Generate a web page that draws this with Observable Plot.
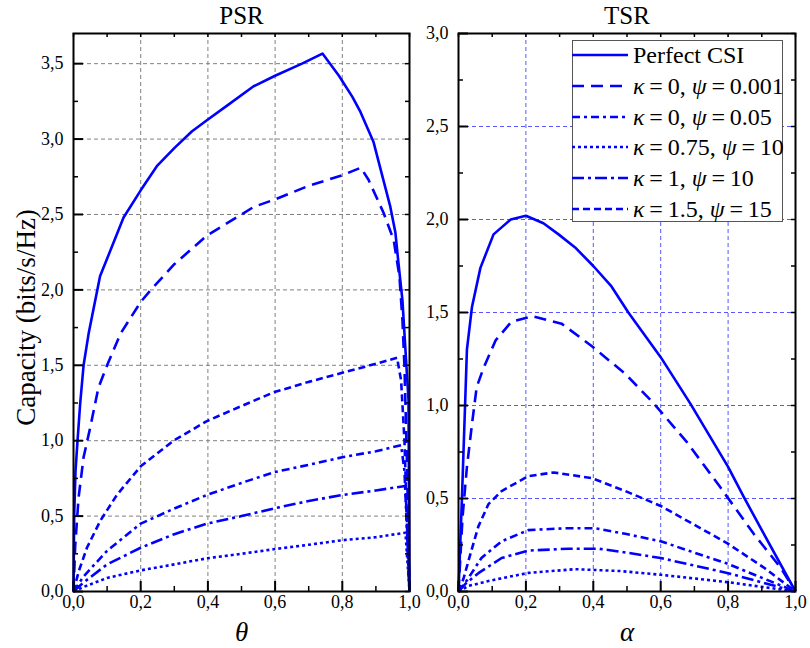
<!DOCTYPE html>
<html>
<head>
<meta charset="utf-8">
<script src="https://cdn.jsdelivr.net/npm/d3@7"></script>
<script src="https://cdn.jsdelivr.net/npm/@observablehq/plot@0.6"></script>
<style>
  body { margin: 0; background: #fff; font-family: "Liberation Serif", "Times New Roman", serif; }
  #wrap { position: relative; width: 810px; height: 648px; overflow: hidden; }
  #wrap > svg { position: absolute; top: 0; background: transparent; }
  #wrap svg text { font-family: "Liberation Serif", "Times New Roman", serif; }
  #legend { position: absolute; left: 572px; top: 40px; width: 211px; height: 182px; box-sizing: border-box;
            border: 1px solid #555; background: #fff; }
  .lrow { position: absolute; left: 0; height: 30px; display: flex; align-items: center; }
  .lrow svg { position: absolute; left: -1px; top: 12px; }
  .lrow span { position: absolute; left: 60px; white-space: nowrap; font-size: 24px; line-height: 30px; color: #000; }
</style>
</head>
<body>
<div id="wrap"></div>
<script>
// ---------------- data ----------------
const seriesLabels = ["Perfect CSI", "κ\u2009=\u20090,  ψ\u2009=\u20090.001", "κ\u2009=\u20090,  ψ\u2009=\u20090.05",
  "κ\u2009=\u20090.75,  ψ\u2009=\u200910", "κ\u2009=\u20091,  ψ\u2009=\u200910", "κ\u2009=\u20091.5,  ψ\u2009=\u200915"];
const seriesDash = [null, "12,7", "8,4,3,4", "3,3", "12,4,3,4", "7,4"];

const xTicks = [0, 0.2, 0.4, 0.6, 0.8, 1.0];
const xMinor = [0.1, 0.3, 0.5, 0.7, 0.9];
const psrYTicks = [0, 0.5, 1.0, 1.5, 2.0, 2.5, 3.0, 3.5];
const psrYMinor = [0.25, 0.75, 1.25, 1.75, 2.25, 2.75, 3.25];
const tsrYTicks = [0, 0.5, 1.0, 1.5, 2.0, 2.5, 3.0];
const tsrYMinor = [0.25, 0.75, 1.25, 1.75, 2.25, 2.75];

// PSR (theta)
const psrPerfectX = [0, 0.002, 0.006, 0.012, 0.02, 0.03, 0.045, 0.079, 0.149, 0.2, 0.248, 0.3, 0.352, 0.4, 0.456, 0.536, 0.6, 0.68, 0.741, 0.79, 0.83, 0.854, 0.893, 0.943, 0.958, 0.967, 0.979, 0.985, 0.997, 1.0];
const psrPerfectY = [0, 0.5, 0.8, 1.0, 1.25, 1.5, 1.71, 2.09, 2.48, 2.66, 2.82, 2.94, 3.05, 3.13, 3.22, 3.35, 3.42, 3.5, 3.567, 3.42, 3.28, 3.18, 2.98, 2.55, 2.38, 2.18, 1.93, 1.71, 1.27, 0];
const psrK0a001X = [0, 0.005, 0.015, 0.03, 0.05, 0.074, 0.1, 0.14, 0.2, 0.23, 0.3, 0.397, 0.5, 0.536, 0.6, 0.7, 0.8, 0.855, 0.878, 0.923, 0.953, 0.97, 0.979, 0.985, 0.992, 1.0];
const psrK0a001Y = [0, 0.3, 0.62, 0.89, 1.09, 1.35, 1.5, 1.71, 1.92, 2.0, 2.17, 2.36, 2.5, 2.55, 2.6, 2.69, 2.76, 2.81, 2.73, 2.51, 2.33, 2.09, 1.8, 1.49, 0.9, 0];
const psrK0a05X = [0, 0.03, 0.1, 0.2, 0.3, 0.397, 0.5, 0.595, 0.7, 0.8, 0.9, 0.975, 0.985, 1.0];
const psrK0a05Y = [0, 0.1, 0.27, 0.45, 0.55, 0.64, 0.72, 0.79, 0.84, 0.89, 0.93, 0.97, 0.8, 0];
const psrK075X = [0, 0.03, 0.1, 0.2, 0.3, 0.397, 0.5, 0.595, 0.7, 0.8, 0.9, 0.988, 1.0];
const psrK075Y = [0, 0.03, 0.09, 0.14, 0.18, 0.22, 0.25, 0.28, 0.31, 0.34, 0.36, 0.39, 0];
const psrK1X = [0, 0.03, 0.1, 0.2, 0.3, 0.397, 0.5, 0.595, 0.7, 0.8, 0.9, 0.988, 1.0];
const psrK1Y = [0, 0.06, 0.18, 0.29, 0.38, 0.45, 0.5, 0.55, 0.6, 0.64, 0.67, 0.70, 0];
const psrK15X = [0, 0.015, 0.04, 0.08, 0.129, 0.2, 0.298, 0.397, 0.5, 0.595, 0.7, 0.8, 0.9, 0.963, 0.975, 0.985, 0.992, 1.0];
const psrK15Y = [0, 0.13, 0.29, 0.47, 0.64, 0.83, 1.0, 1.13, 1.23, 1.32, 1.39, 1.45, 1.51, 1.55, 1.4, 1.0, 0.5, 0];

// TSR (alpha)
const tsrPerfectX = [0, 0.01, 0.02, 0.025, 0.04, 0.065, 0.104, 0.155, 0.2, 0.252, 0.297, 0.346, 0.4, 0.454, 0.504, 0.6, 0.688, 0.8, 0.846, 0.9, 1.0];
const tsrPerfectY = [0, 0.49, 1.03, 1.3, 1.53, 1.74, 1.92, 2.0, 2.02, 1.98, 1.92, 1.85, 1.75, 1.64, 1.5, 1.26, 1.01, 0.67, 0.51, 0.33, 0];
const tsrK0a001X = [0, 0.012, 0.025, 0.04, 0.054, 0.074, 0.11, 0.157, 0.22, 0.306, 0.395, 0.495, 0.58, 0.679, 0.777, 0.876, 0.955, 1.0];
const tsrK0a001Y = [0, 0.4, 0.67, 0.9, 1.1, 1.2, 1.35, 1.45, 1.48, 1.44, 1.32, 1.17, 1.01, 0.8, 0.56, 0.31, 0.13, 0];
const tsrK0a05X = [0, 0.025, 0.068, 0.128, 0.207, 0.316, 0.406, 0.495, 0.6, 0.797, 1.0];
const tsrK0a05Y = [0, 0.06, 0.18, 0.27, 0.33, 0.34, 0.34, 0.31, 0.27, 0.15, 0];
const tsrK075X = [0, 0.03, 0.098, 0.207, 0.347, 0.48, 0.6, 0.8, 1.0];
const tsrK075Y = [0, 0.03, 0.06, 0.1, 0.12, 0.11, 0.09, 0.05, 0];
const tsrK1X = [0, 0.02, 0.06, 0.128, 0.207, 0.326, 0.416, 0.495, 0.6, 0.797, 1.0];
const tsrK1Y = [0, 0.04, 0.1, 0.18, 0.22, 0.23, 0.23, 0.21, 0.18, 0.1, 0];
const tsrK15X = [0, 0.015, 0.035, 0.059, 0.089, 0.128, 0.207, 0.282, 0.395, 0.495, 0.6, 0.679, 0.797, 0.905, 1.0];
const tsrK15Y = [0, 0.07, 0.2, 0.35, 0.47, 0.54, 0.62, 0.64, 0.61, 0.54, 0.46, 0.38, 0.26, 0.13, 0];

// ---------------- build ----------------
const rows = (xs, ys) => xs.map((x, i) => ({x, y: ys[i]}));
const psrSeries = [[psrPerfectX, psrPerfectY], [psrK0a001X, psrK0a001Y], [psrK0a05X, psrK0a05Y],
                   [psrK075X, psrK075Y], [psrK1X, psrK1Y], [psrK15X, psrK15Y]];
const tsrSeries = [[tsrPerfectX, tsrPerfectY], [tsrK0a001X, tsrK0a001Y], [tsrK0a05X, tsrK0a05Y],
                   [tsrK075X, tsrK075Y], [tsrK1X, tsrK1Y], [tsrK15X, tsrK15Y]];

const BLUE = "#0000ff";
const SERIF = "Liberation Serif";
const fmt = d => d3.format(".1f")(d).replace(".", ",");
const TOP = 33, BOTTOM = 57, H = 648;
const frameH = H - TOP - BOTTOM;

function panel({width, marginLeft, marginRight, ymax, yTicks, yMinor, series, gridColor, gridOpacity, title, xLabel, yLabel}) {
  const frameW = width - marginLeft - marginRight;
  const gx = xTicks.filter(d => d > 0 && d < 1);
  const gy = yTicks.filter(d => d > 0 && d < ymax);
  const marks = [
    Plot.gridX(gx, {stroke: gridColor, strokeOpacity: gridOpacity, strokeWidth: 1, strokeDasharray: "4,3"}),
    Plot.gridY(gy, {stroke: gridColor, strokeOpacity: gridOpacity, strokeWidth: 1, strokeDasharray: "4,3"}),
    ...series.map(([xs, ys], i) => Plot.line(rows(xs, ys), {
      x: "x", y: "y", stroke: BLUE, strokeWidth: 2.6, strokeDasharray: seriesDash[i],
      strokeLinejoin: "round", strokeLinecap: "butt"
    })),
    // inward ticks: bottom major / minor, top small
    Plot.tickX(xTicks, {x: d => d, insetTop: frameH - 10, stroke: "black", strokeWidth: 2}),
    Plot.tickX(xMinor, {x: d => d, insetTop: frameH - 5, stroke: "black", strokeWidth: 1.5}),
    Plot.tickX([...xTicks, ...xMinor], {x: d => d, insetBottom: frameH - 4, stroke: "black", strokeWidth: 1.5}),
    // left major / minor, right small
    Plot.tickY(yTicks, {y: d => d, insetRight: frameW - 10, stroke: "black", strokeWidth: 2}),
    Plot.tickY(yMinor, {y: d => d, insetRight: frameW - 5, stroke: "black", strokeWidth: 1.5}),
    Plot.tickY([...yTicks, ...yMinor], {y: d => d, insetLeft: frameW - 4, stroke: "black", strokeWidth: 1.5}),
    Plot.axisX(xTicks, {tickSize: 0, tickPadding: 4, tickFormat: fmt, fontSize: 18, fontFamily: SERIF, label: null}),
    Plot.axisY(yTicks, {tickSize: 0, tickPadding: 10, tickFormat: fmt, fontSize: 18, fontFamily: SERIF, label: null}),
    Plot.frame({stroke: "black", strokeWidth: 2}),
    Plot.text([title], {frameAnchor: "top", dy: -18, fontSize: 25, fontFamily: SERIF, lineAnchor: "middle", fill: "black"}),
    Plot.text([xLabel], {frameAnchor: "bottom", dy: 41, fontSize: 27, fontFamily: SERIF, fontStyle: "italic", lineAnchor: "middle", fill: "black"})
  ];
  if (yLabel) {
    marks.push(Plot.text([yLabel], {frameAnchor: "left", dx: -47, dy: 5, rotate: -90, fontSize: 27, fontFamily: SERIF,
      textAnchor: "middle", lineAnchor: "middle", fill: "black"}));
  }
  return Plot.plot({
    width, height: H, marginTop: TOP, marginBottom: BOTTOM, marginLeft, marginRight,
    x: {domain: [0, 1], axis: null},
    y: {domain: [0, ymax], axis: null},
    style: {fontFamily: "'Liberation Serif', 'Times New Roman', serif", background: "transparent", overflow: "visible"},
    marks
  });
}

const wrap = document.getElementById("wrap");
const left = panel({width: 420, marginLeft: 73, marginRight: 11, ymax: 3.7, yTicks: psrYTicks, yMinor: psrYMinor,
  series: psrSeries, gridColor: "#808080", gridOpacity: 1, title: "PSR", xLabel: "θ", yLabel: "Capacity (bits/s/Hz)"});
left.style.left = "0px";
wrap.appendChild(left);

const right = panel({width: 400, marginLeft: 48, marginRight: 15, ymax: 3.0, yTicks: tsrYTicks, yMinor: tsrYMinor,
  series: tsrSeries, gridColor: "#3a3aff", gridOpacity: 0.85, title: "TSR", xLabel: "α", yLabel: null});
right.style.left = "410px";
wrap.appendChild(right);

// legend
const legend = document.createElement("div");
legend.id = "legend";
seriesLabels.forEach((lab, i) => {
  const row = document.createElement("div");
  row.className = "lrow";
  row.style.top = (14 + i * 30.8 - 15) + "px";
  row.style.width = "209px";
  const dash = seriesDash[i] ? `stroke-dasharray="${seriesDash[i]}"` : "";
  row.innerHTML = `<svg width="57" height="6"><line x1="0" y1="3" x2="56" y2="3" stroke="${BLUE}" stroke-width="2.6" ${dash}/></svg>` +
    `<span>${lab.replace(/([κψ])/g, "<i>$1</i>")}</span>`;
  legend.appendChild(row);
});
wrap.appendChild(legend);
</script>
</body>
</html>
